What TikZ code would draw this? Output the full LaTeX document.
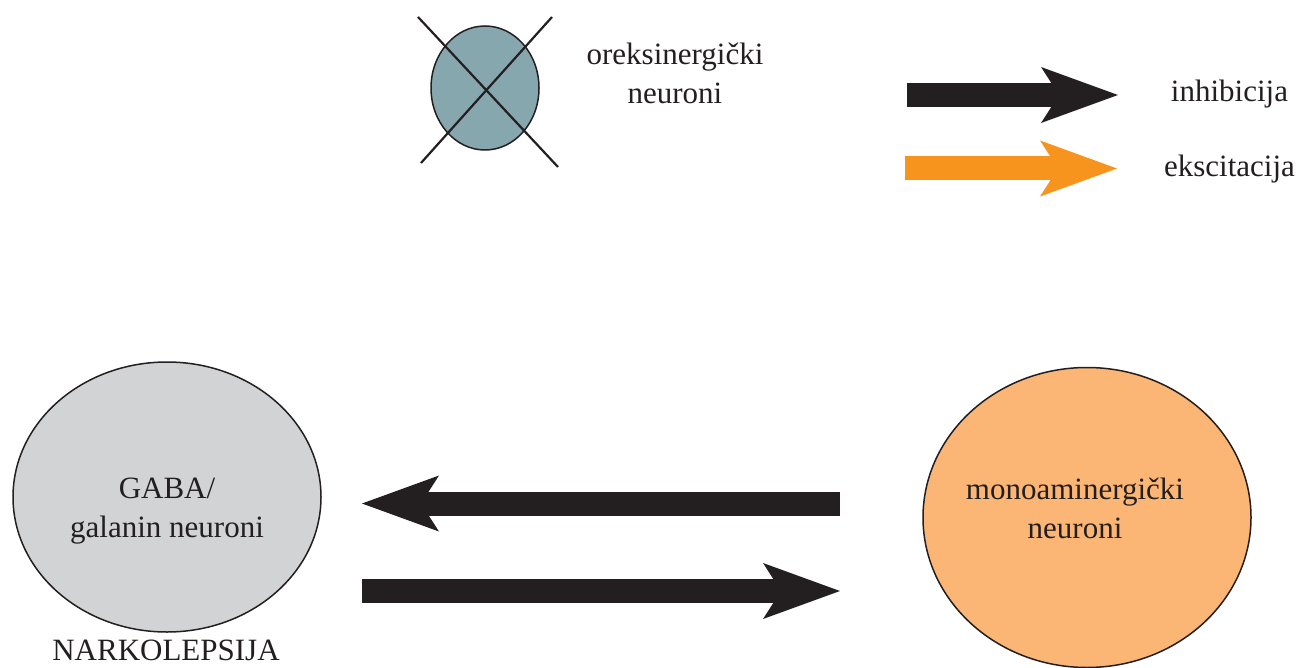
\documentclass[tikz,border=0pt]{standalone}
\usepackage{fontspec}
\setmainfont{Liberation Serif}
\usetikzlibrary{shapes.geometric,arrows.meta}

\definecolor{inkblack}{HTML}{231F20}
\definecolor{excorange}{HTML}{F7941D}
\definecolor{gabagray}{HTML}{D1D3D4}
\definecolor{monoorange}{HTML}{FBB574}
\definecolor{orexteal}{HTML}{86A7AD}

\tikzset{
  cell/.style={ellipse, draw=inkblack, line width=1.5pt, inner sep=0pt},
  lbl/.style={font=\fontsize{31}{39}\selectfont, text=inkblack, align=center, inner sep=0pt},
  fatarrow/.style={line width=24pt, draw=#1,
    -{Stealth[length=77pt, width=56pt, inset=18pt, line width=0pt, fill=#1]}},
  crossline/.style={draw=inkblack, line width=2.2pt},
}

\begin{document}
\begin{tikzpicture}[x=1pt, y=-1pt]
  \useasboundingbox (0,0) rectangle (1297,668);

  % knocked-out orexin cell (multi-line labels sit on the baseline of their last line)
  \node[cell, fill=orexteal, minimum width=108pt, minimum height=124pt] (orx) at (485,88) {};
  \draw[crossline] (418,17) -- (558,167);
  \draw[crossline] (552,17) -- (421,163);
  \node[lbl, anchor=base] (orxlbl) at (675,104) {oreksinergički\\neuroni};

  % legend
  \coordinate (inhA) at (907,95);
  \coordinate (inhB) at (1118,95);
  \coordinate (excA) at (905,168.5);
  \coordinate (excB) at (1117,168.5);
  \draw[fatarrow=inkblack] (inhA) -- (inhB);
  \draw[fatarrow=excorange] (excA) -- (excB);
  \node[lbl, anchor=base] (inh) at (1229.5,102) {inhibicija};
  \node[lbl, anchor=base] (exc) at (1229.5,177) {ekscitacija};

  % the two cell groups
  \node[cell, fill=gabagray, minimum width=308pt, minimum height=270pt] (gaba) at (167,497) {};
  \node[lbl, anchor=base] (gabalbl) at (167,537) {GABA/\\galanin neuroni};
  \node[cell, fill=monoorange, minimum width=328pt, minimum height=300pt] (mono) at (1087,517.5) {};
  \node[lbl, anchor=base] (monolbl) at (1075,538) {monoaminergički\\neuroni};
  \node[lbl, anchor=base] (narc) at (166,660) {NARKOLEPSIJA};

  % mutual inhibition
  \coordinate (mTail) at (840,503.5);
  \coordinate (gTip) at (362,503.5);
  \coordinate (gTail) at (362,591);
  \coordinate (mTip) at (840,591);
  \draw[fatarrow=inkblack] (mTail) -- (gTip);
  \draw[fatarrow=inkblack] (gTail) -- (mTip);
\end{tikzpicture}
\end{document}
